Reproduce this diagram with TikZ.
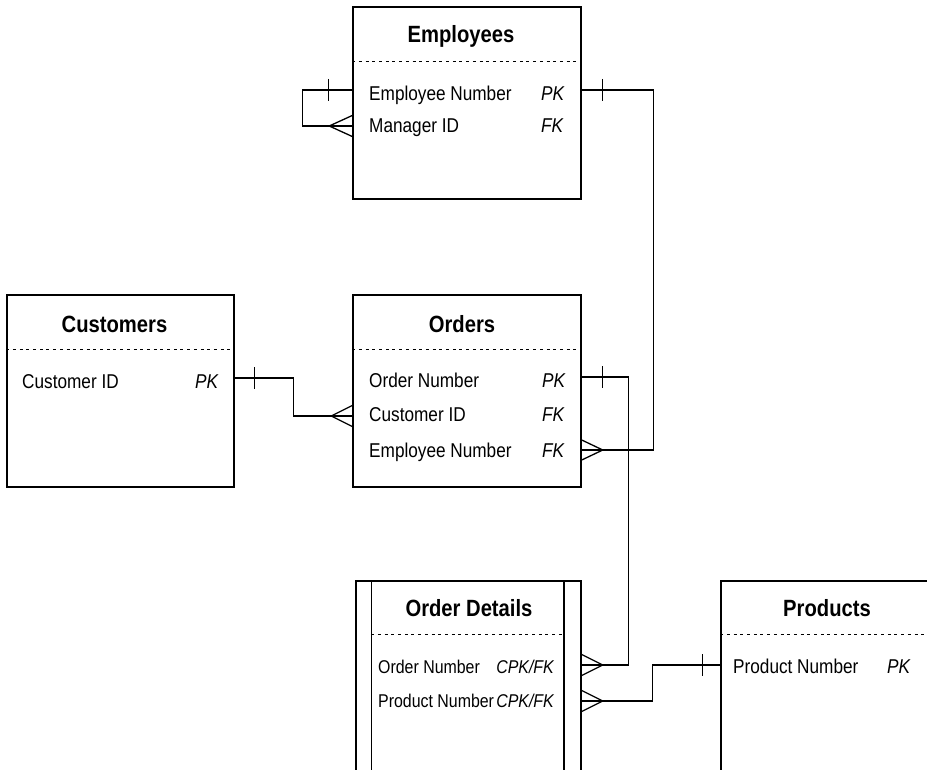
\documentclass[tikz,border=0pt]{standalone}
\usepackage{fontspec}
\setmainfont{Liberation Sans}[FakeStretch=0.86]
\usepackage{tikz}
\usetikzlibrary{calc}
\tikzset{>=latex}
\tikzstyle{tbl} = [draw=black, line width=1.5pt, rectangle, inner sep=0]
\tikzstyle{tblname} = [draw=none, anchor=base, inner sep=0, font=\fontsize{23.5}{28}\selectfont\bfseries]
\tikzstyle{fld} = [draw=none, anchor=base west, inner sep=0, font=\fontsize{20}{24}\selectfont]
\tikzstyle{fldkey} = [fld, font=\fontsize{20}{24}\selectfont\itshape]
\tikzstyle{odfld} = [fld, font=\fontsize{18.5}{22}\selectfont]
\tikzstyle{odkey} = [fld, anchor=base east, font=\fontsize{18.5}{22}\selectfont\itshape]
\tikzstyle{divider} = [-, line width=1pt, dash pattern=on 3pt off 3.7pt]
\tikzstyle{relline} = [-, line width=1.3pt]

\begin{document}
\begin{tikzpicture}[x=1pt, y=-1pt]
\useasboundingbox (0,0) rectangle (927,770);
\clip (0,0) rectangle (927,770);

% tables
\node [tbl, minimum width=228, minimum height=192] (emp) at (467,103) {};
\node [tbl, minimum width=227, minimum height=192] (cust) at (120.5,391) {};
\node [tbl, minimum width=228, minimum height=192] (ord) at (467,391) {};
\node [tbl, minimum width=225, minimum height=192] (od) at (468.5,677) {};
\node [tbl, minimum width=212, minimum height=192] (prod) at (827,677) {};
% weak entity: inner walls
\draw [line width=1.5pt] ([xshift=16pt]od.north west) -- ([xshift=16pt]od.south west);
\draw [line width=1.5pt] ([xshift=-18pt]od.north east) -- ([xshift=-18pt]od.south east);

% headers
\node [tblname] (empT) at (461,43) {Employees};
\node [tblname] (custT) at (114.5,332) {Customers};
\node [tblname] (ordT) at (462,332) {Orders};
\node [tblname] (odT) at (469,616) {Order Details};
\node [tblname] (prodT) at (827,616) {Products};
\draw [divider] ($(emp.north west)+(0,55)$) -- ($(emp.north east)+(0,55)$);
\draw [divider] ($(cust.north west)+(0,55)$) -- ($(cust.north east)+(0,55)$);
\draw [divider] ($(ord.north west)+(0,55)$) -- ($(ord.north east)+(0,55)$);
\draw [divider] ($(od.north west)+(16,54)$) -- ($(od.north east)+(-18,54)$);
\draw [divider] ($(prod.north west)+(0,54)$) -- ($(prod.north east)+(0,54)$);

% fields
\node [fld] (empNum) at (369,101) {Employee Number};
\node [fldkey] (empNumK) at (541,101) {PK};
\node [fld] (empMgr) at (369,133) {Manager ID};
\node [fldkey] (empMgrK) at (541,133) {FK};

\node [fld] (custId) at (22,388) {Customer ID};
\node [fldkey] (custIdK) at (195,388) {PK};

\node [fld] (ordNum) at (369,387) {Order Number};
\node [fldkey] (ordNumK) at (542,387) {PK};
\node [fld] (ordCust) at (369,421) {Customer ID};
\node [fldkey] (ordCustK) at (542,421) {FK};
\node [fld] (ordEmp) at (369,457) {Employee Number};
\node [fldkey] (ordEmpK) at (542,457) {FK};

\node [odfld] (odOrd) at (378,673) {Order Number};
\node [odkey] (odOrdK) at (554,673) {CPK/FK};
\node [odfld] (odProd) at (378,707) {Product Number};
\node [odkey] (odProdK) at (554,707) {CPK/FK};

\node [fld] (prodNum) at (733,673) {Product Number};
\node [fldkey] (prodNumK) at (887,673) {PK};

% attachment points
\coordinate (e1) at ($(emp.west |- empNum.base)+(0,-11)$);
\coordinate (e2) at ($(emp.west |- empMgr.base)+(0,-7)$);
\coordinate (e3) at ($(emp.east |- empNum.base)+(0,-11)$);
\coordinate (c1) at ($(cust.east |- custId.base)+(0,-10)$);
\coordinate (o1) at ($(ord.east |- ordNum.base)+(0,-10)$);
\coordinate (o2) at ($(ord.west |- ordCust.base)+(0,-5)$);
\coordinate (o3) at ($(ord.east |- ordEmp.base)+(0,-7)$);
\coordinate (d1) at ($(od.east |- odOrd.base)+(0,-8)$);
\coordinate (d2) at ($(od.east |- odProd.base)+(0,-6)$);
\coordinate (p1) at ($(prod.west |- prodNum.base)+(0,-8)$);

% Employees -> Employees (manager)
\draw [relline] (e1) -- ++(-50,0) |- (e2);
\draw [relline] (e1) ++(-24,-11) -- ++(0,22);
\draw [relline] (e2) ++(0,-10.5) -- ++(-23,10.5) -- ++(23,10.5);

% Employees -> Orders
\draw [relline] (e3) -- ++(72,0) |- (o3);
\draw [relline] (e3) ++(21,-11) -- ++(0,22);
\draw [relline] (o3) ++(0,-10) -- ++(21,10) -- ++(-21,10);

% Customers -> Orders
\draw [relline] (c1) -- ++(59,0) |- (o2);
\draw [relline] (c1) ++(20,-11) -- ++(0,22);
\draw [relline] (o2) ++(0,-10.5) -- ++(-21,10.5) -- ++(21,10.5);

% Orders -> Order Details
\draw [relline] (o1) -- ++(47,0) |- (d1);
\draw [relline] (o1) ++(21,-11) -- ++(0,22);
\draw [relline] (d1) ++(0,-10.5) -- ++(21,10.5) -- ++(-21,10.5);

% Products -> Order Details
\draw [relline] (p1) -- ++(-68,0) |- (d2);
\draw [relline] (p1) ++(-18,-11) -- ++(0,22);
\draw [relline] (d2) ++(0,-10.5) -- ++(21,10.5) -- ++(-21,10.5);
\end{tikzpicture}
\end{document}
